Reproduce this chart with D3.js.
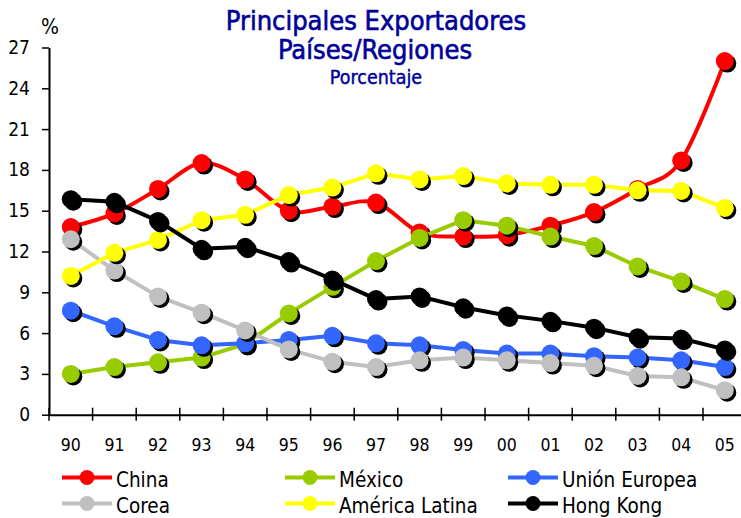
<!DOCTYPE html>
<html>
<head>
<meta charset="utf-8">
<script src="https://cdn.jsdelivr.net/npm/d3@7"></script>
<style>
  body { margin: 0; background: #fff; }
  svg text { font-family: "DejaVu Sans Condensed", "DejaVu Sans", sans-serif; font-stretch: condensed; }
</style>
</head>
<body>
<div class="chart"></div>
<script>
var svgWidth = 741;
var svgHeight = 518;

// categories and series (% share)
var years = ["90", "91", "92", "93", "94", "95", "96", "97", "98", "99", "00", "01", "02", "03", "04", "05"];
var china = [13.8, 14.8, 16.6, 18.5, 17.3, 15.0, 15.3, 15.6, 13.4, 13.1, 13.2, 13.9, 14.9, 16.6, 18.7, 26.0];
var mexico = [3.0, 3.5, 3.85, 4.2, 5.2, 7.45, 9.4, 11.3, 13.0, 14.3, 13.9, 13.1, 12.4, 10.9, 9.8, 8.5];
var unionEuropea = [7.65, 6.5, 5.5, 5.1, 5.25, 5.5, 5.8, 5.25, 5.1, 4.75, 4.5, 4.5, 4.3, 4.2, 4.0, 3.5];
var corea = [12.9, 10.6, 8.7, 7.5, 6.2, 4.8, 3.9, 3.5, 4.0, 4.2, 4.0, 3.8, 3.6, 2.85, 2.75, 1.8];
var americaLatina = [10.2, 11.9, 12.85, 14.3, 14.7, 16.15, 16.7, 17.75, 17.3, 17.55, 17.0, 16.9, 16.9, 16.5, 16.45, 15.2];
var hongKong = [15.85, 15.65, 14.25, 12.2, 12.35, 11.3, 9.95, 8.5, 8.7, 7.9, 7.3, 6.9, 6.4, 5.7, 5.6, 4.8];
var yTicks = [0, 3, 6, 9, 12, 15, 18, 21, 24, 27];

var series = [
  { name: "China", values: china, color: "#ff0000", smooth: true },
  { name: "México", values: mexico, color: "#99cc00" },
  { name: "Unión Europea", values: unionEuropea, color: "#3366ff" },
  { name: "Corea", values: corea, color: "#c0c0c0" },
  { name: "América Latina", values: americaLatina, color: "#ffff00" },
  { name: "Hong Kong", values: hongKong, color: "#000000" }
];

var svg = d3.select(".chart")
  .append("svg")
  .attr("width", svgWidth)
  .attr("height", svgHeight);

var x = d3.scaleBand()
  .domain(years)
  .range([49, 746.6]);

var y = d3.scaleLinear()
  .domain([0, 27])
  .range([414.7, 47.5]);

// titles
var titleColor = "#000099";
svg.append("text").attr("x", 376).attr("y", 30).attr("text-anchor", "middle")
  .attr("font-size", 27).attr("fill", titleColor)
  .attr("stroke", titleColor).attr("stroke-width", 0.6)
  .text("Principales Exportadores");
svg.append("text").attr("x", 375).attr("y", 59).attr("text-anchor", "middle")
  .attr("font-size", 27).attr("fill", titleColor)
  .attr("stroke", titleColor).attr("stroke-width", 0.6)
  .text("Países/Regiones");
svg.append("text").attr("x", 376).attr("y", 84).attr("text-anchor", "middle")
  .attr("font-size", 19.5).attr("fill", titleColor)
  .attr("stroke", titleColor).attr("stroke-width", 0.4)
  .text("Porcentaje");
svg.append("text").attr("x", 50).attr("y", 34).attr("text-anchor", "middle")
  .attr("font-size", 21).attr("fill", "#000").text("%");

// y axis
var yAxis = svg.append("g")
  .attr("transform", "translate(49,0)")
  .call(d3.axisLeft(y).tickValues(yTicks).tickSize(7).tickSizeOuter(0).tickPadding(12));
yAxis.select(".domain").attr("stroke-width", 2);
yAxis.selectAll(".tick line").attr("stroke-width", 1.5);
yAxis.selectAll("text").attr("font-size", 19).attr("fill", "#000").attr("font-family", null);

// x axis: labels at band centres, ticks on band edges
var xAxis = svg.append("g")
  .attr("transform", "translate(0," + y(0) + ")")
  .call(d3.axisBottom(x).tickSize(0).tickPadding(24).tickSizeOuter(0));
xAxis.select(".domain").attr("stroke-width", 2);
xAxis.selectAll("text").attr("font-size", 17.5).attr("fill", "#000").attr("font-family", null);
xAxis.selectAll(".edge")
  .data(years)
  .enter()
  .append("line")
  .attr("x1", d => x(d))
  .attr("x2", d => x(d))
  .attr("y1", -7)
  .attr("y2", 6)
  .attr("stroke", "#000")
  .attr("stroke-width", 1.5);

// series lines and markers
var r = 9;
var shadow = 2.5;
series.forEach(function(s) {
  var pts = s.values.map((v, i) => [x(years[i]) + x.bandwidth() / 2, y(v)]);
  var line = d3.line().curve(s.smooth ? d3.curveCardinal.tension(0) : d3.curveLinear);
  var g = svg.append("g");
  g.append("path")
    .attr("d", line(pts))
    .attr("fill", "none")
    .attr("stroke", s.color)
    .attr("stroke-width", 4)
    .attr("stroke-linejoin", "round");
  g.selectAll(".shadow")
    .data(pts)
    .enter()
    .append("circle")
    .attr("cx", d => d[0] + shadow)
    .attr("cy", d => d[1] + shadow)
    .attr("r", r)
    .attr("fill", "#000");
  g.selectAll(".dot")
    .data(pts)
    .enter()
    .append("circle")
    .attr("cx", d => d[0])
    .attr("cy", d => d[1])
    .attr("r", r)
    .attr("fill", s.color);
});

// legend, 3 columns x 2 rows
var legendCols = [62, 285, 508];
var legendRows = [477.5, 503.5];
series.forEach(function(s, i) {
  var lx = legendCols[i % 3];
  var ly = legendRows[Math.floor(i / 3)];
  var g = svg.append("g");
  g.append("line")
    .attr("x1", lx).attr("x2", lx + 50)
    .attr("y1", ly).attr("y2", ly)
    .attr("stroke", s.color)
    .attr("stroke-width", 4);
  g.append("circle")
    .attr("cx", lx + 25).attr("cy", ly)
    .attr("r", 7.5)
    .attr("fill", s.color);
  g.append("text")
    .attr("x", lx + 54)
    .attr("y", ly + 9)
    .attr("font-size", 20.5)
    .attr("fill", "#000")
    .text(s.name);
});
</script>
</body>
</html>
